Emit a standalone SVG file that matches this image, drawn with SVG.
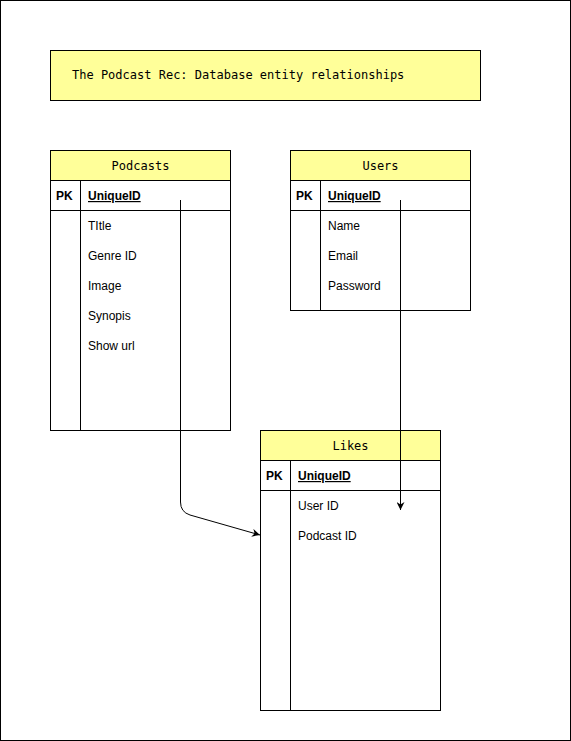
<svg xmlns="http://www.w3.org/2000/svg" width="571" height="741" viewBox="0 0 571 741">
<style>
.box{fill:#fff;stroke:#000;stroke-width:1}
.hdr{fill:#ffff99;stroke:#000;stroke-width:1}
.ln{stroke:#000;stroke-width:1;fill:none}
.mono{font-family:"DejaVu Sans Mono",monospace;font-size:12px;fill:#000}
.f{font-family:"Liberation Sans",Arial,sans-serif;font-size:12px;fill:#000}
.pk{font-family:"Liberation Sans",Arial,sans-serif;font-size:12px;font-weight:bold;fill:#000}
.uid{font-family:"Liberation Sans",Arial,sans-serif;font-size:12px;font-weight:bold;text-decoration:underline;fill:#000}
</style>
<defs>
<marker id="arr" viewBox="0 0 10 10" refX="10" refY="5" markerWidth="8" markerHeight="8" orient="auto" markerUnits="userSpaceOnUse">
<path d="M0,0 L10,5 L0,10 L3,5 Z" fill="#000"/>
</marker>
</defs>
<rect x="0.5" y="0.5" width="570" height="740" fill="#fff" stroke="#000"/>
<g id="title">
<rect class="hdr" x="50.5" y="50.5" width="430" height="50"/>
<text class="mono" x="72" y="79">The Podcast Rec: Database entity relationships</text>
</g>
<g id="podcasts">
<rect class="box" x="50.5" y="150.5" width="180" height="280"/>
<rect class="hdr" x="50.5" y="150.5" width="180" height="30"/>
<line class="ln" x1="50.5" y1="210.5" x2="230.5" y2="210.5"/>
<line class="ln" x1="80.5" y1="180.5" x2="80.5" y2="430.5"/>
<text class="mono" x="140.5" y="170" text-anchor="middle">Podcasts</text>
<text class="pk" x="56" y="200">PK</text>
<text class="uid" x="88" y="200">UniqueID</text>
<text class="f" x="88" y="230">TItle</text>
<text class="f" x="88" y="260">Genre ID</text>
<text class="f" x="88" y="290">Image</text>
<text class="f" x="88" y="320">Synopis</text>
<text class="f" x="88" y="350">Show url</text>
</g>
<g id="users">
<rect class="box" x="290.5" y="150.5" width="180" height="160"/>
<rect class="hdr" x="290.5" y="150.5" width="180" height="30"/>
<line class="ln" x1="290.5" y1="210.5" x2="470.5" y2="210.5"/>
<line class="ln" x1="320.5" y1="180.5" x2="320.5" y2="310.5"/>
<text class="mono" x="380.5" y="170" text-anchor="middle">Users</text>
<text class="pk" x="296" y="200">PK</text>
<text class="uid" x="328" y="200">UniqueID</text>
<text class="f" x="328" y="230">Name</text>
<text class="f" x="328" y="260">Email</text>
<text class="f" x="328" y="290">Password</text>
</g>
<g id="likes">
<rect class="box" x="260.5" y="430.5" width="180" height="280"/>
<rect class="hdr" x="260.5" y="430.5" width="180" height="30"/>
<line class="ln" x1="260.5" y1="490.5" x2="440.5" y2="490.5"/>
<line class="ln" x1="290.5" y1="460.5" x2="290.5" y2="710.5"/>
<text class="mono" x="350.5" y="450" text-anchor="middle">Likes</text>
<text class="pk" x="266" y="480">PK</text>
<text class="uid" x="298" y="480">UniqueID</text>
<text class="f" x="298" y="510">User ID</text>
<text class="f" x="298" y="540">Podcast ID</text>
</g>
<g id="connectors">
<path class="ln" d="M180.5,200 L180.5,502 Q180.5,512 190,515 L260,535" marker-end="url(#arr)"/>
<path class="ln" d="M400.5,200 L400.5,510" marker-end="url(#arr)"/>
</g>
</svg>
